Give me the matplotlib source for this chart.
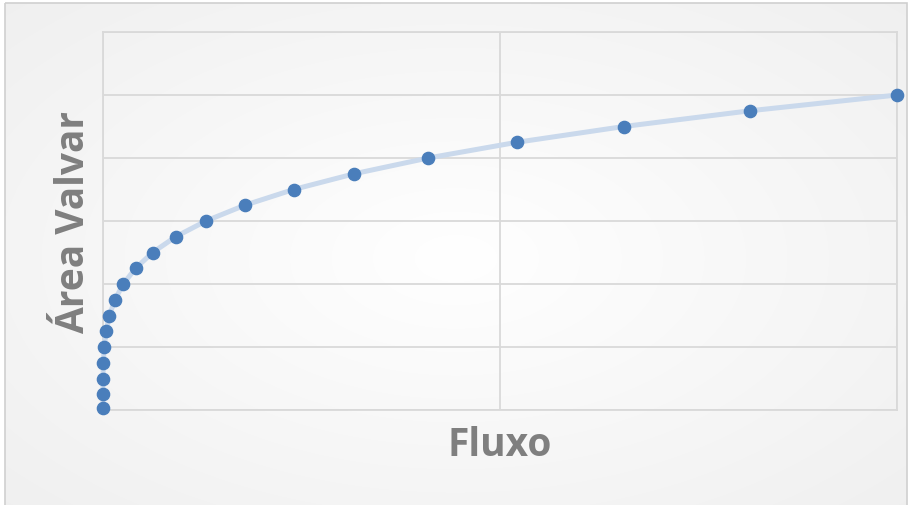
import numpy as np
from matplotlib import pyplot as plt
from matplotlib.patches import Rectangle

# valve area vs. flow (no tick labels on the chart, arbitrary units)
area = [0.03, 0.25, 0.5, 0.75, 1.0, 1.25, 1.5, 1.75, 2.0, 2.25, 2.5,
        2.75, 3.0, 3.25, 3.5, 3.75, 4.0, 4.25, 4.5, 4.75, 5.0]
flow = [0.0, 0.0, 0.0, 0.001, 0.003, 0.008, 0.016, 0.030, 0.051, 0.082, 0.125,
        0.183, 0.259, 0.357, 0.480, 0.633, 0.819, 1.043, 1.312, 1.630, 2.0]

X_MAX = 2
Y_MAX = 6
LABEL_FONT = ['Open Sans', 'DejaVu Sans']

fig = plt.figure(figsize=(9.15, 5.06), dpi=100)
fig.patch.set_facecolor('white')

# chart background with a soft radial gradient, framed by a thin gray border
bg = fig.add_axes([0, 0, 1, 1], zorder=0)
bg.set_xlim(0, 915)
bg.set_ylim(506, 0)
bg.axis('off')
gx, gy = np.meshgrid(np.linspace(-1, 1, 300), np.linspace(-1, 1, 170))
r = np.clip(np.sqrt(gx ** 2 + gy ** 2) / 1.41, 0, 1)
shade = 1.0 - 0.06 * r
bg.imshow(np.dstack([shade, shade, shade]), extent=(5, 907, 515, 4),
          aspect='auto', interpolation='bilinear')
bg.add_patch(Rectangle((5, 4), 902, 520, fill=False, edgecolor='#d0d0d0', lw=1.2))

ax = fig.add_axes([103 / 915, 95 / 506, 794 / 915, 378 / 506], zorder=1)
ax.set_facecolor('none')
ax.set_xlim(0, X_MAX)
ax.set_ylim(0, Y_MAX)
ax.set_xticks(np.arange(0, X_MAX + 1, 1))
ax.set_yticks(np.arange(0, Y_MAX + 1, 1))
ax.tick_params(length=0, labelleft=False, labelbottom=False)
ax.grid(color='#d9d9d9', lw=1.3)
for s in ax.spines.values():
    s.set_color('#d9d9d9')
    s.set_linewidth(1.3)

ax.plot(flow, area, '-', color='#cad9ec', lw=3.6, solid_joinstyle='round',
        solid_capstyle='round', zorder=3, clip_on=False)
ax.plot(flow, area, 'o', color='#4a7ebb', ms=8.8, mec='#4a7ebb', zorder=4, clip_on=False)

ax.set_xlabel('Fluxo', fontsize=28, fontweight='bold', color='#7f7f7f',
              family=LABEL_FONT, labelpad=11)
ax.set_ylabel('Área Valvar', fontsize=28, fontweight='bold', color='#7f7f7f',
              family=LABEL_FONT, labelpad=7)

plt.savefig('out.png', dpi=100)
